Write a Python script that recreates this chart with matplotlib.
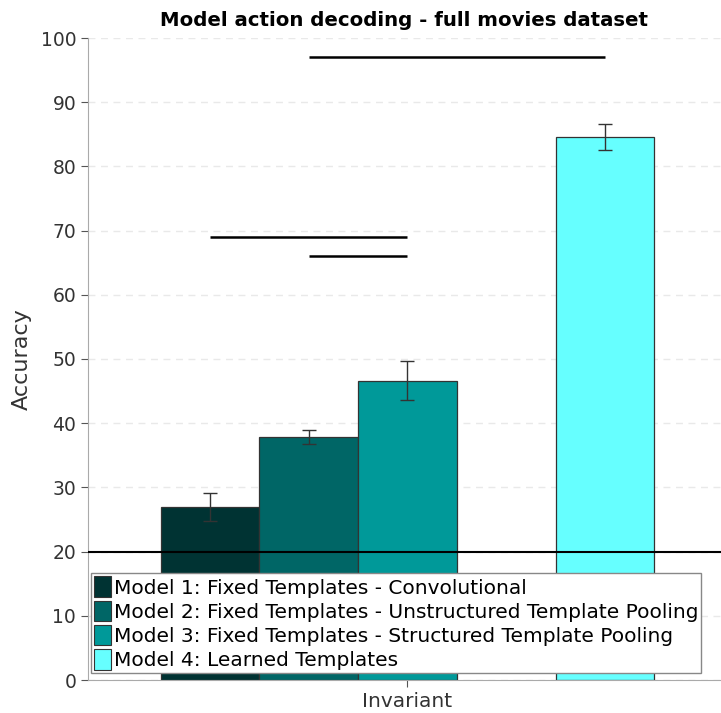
import matplotlib
matplotlib.use("Agg")
import matplotlib.pyplot as plt
from matplotlib.patches import Patch

# Decoding accuracy per model (percent) with standard errors
models = [
    "Model 1: Fixed Templates - Convolutional",
    "Model 2: Fixed Templates - Unstructured Template Pooling",
    "Model 3: Fixed Templates - Structured Template Pooling",
    "Model 4: Learned Templates",
]
accuracy = [26.9, 37.85, 46.6, 84.6]
errors = [2.2, 1.05, 3.05, 2.0]
bar_pos = [1, 2, 3, 5]
colors = ["#003333", "#006666", "#009999", "#66FFFF"]

# Significance brackets: (start bar index, end bar index, height)
sig_pairs = [(0, 2, 69), (1, 2, 66), (1, 3, 97)]
chance_level = 20
group_label = "Invariant"
group_pos = 3

fig = plt.figure(figsize=(7.21, 7.13), dpi=100)
ax = fig.add_axes([88 / 721, 33 / 713, 633 / 721, 642 / 713])

ax.set_axisbelow(True)
ax.yaxis.grid(True, linestyle=(0, (5, 4)), color="#e9e9e9", linewidth=1.0)

ax.bar(bar_pos, accuracy, width=1.0, color=colors, edgecolor="#333333",
       linewidth=0.9, zorder=2)
ax.errorbar(bar_pos, accuracy, yerr=errors, fmt="none", ecolor="#333333",
            elinewidth=1.0, capsize=5, capthick=1.0, zorder=3)

for i, j, h in sig_pairs:
    ax.plot([bar_pos[i], bar_pos[j]], [h, h], color="black", linewidth=1.8,
            solid_capstyle="butt", zorder=4)

ax.axhline(chance_level, color="black", linewidth=1.5, zorder=4)

ax.set_xlim(-0.235, 6.175)
ax.set_ylim(0, 100)
ax.set_yticks(range(0, 101, 10))
ax.set_xticks([group_pos])
ax.set_xticklabels([group_label])

for side in ("top", "right"):
    ax.spines[side].set_visible(False)
ax.spines["left"].set_color("#aaaaaa")
ax.spines["bottom"].set_color("#aaaaaa")
ax.tick_params(axis="both", colors="#555555", labelcolor="#333333",
               labelsize=13.5, length=5, width=0.8)
ax.tick_params(axis="x", labelsize=14.5)

ax.set_ylabel("Accuracy", fontsize=16, color="#333333", labelpad=6)
ax.set_title("Model action decoding - full movies dataset", fontsize=14.2,
             fontweight="bold", pad=9)

handles = [Patch(facecolor=c, edgecolor="#333333", linewidth=0.8) for c in colors]
leg = ax.legend(handles, models, loc="lower left",
                bbox_to_anchor=(3 / 633, 7 / 642), fontsize=14.5,
                frameon=True, fancybox=False, framealpha=1.0,
                edgecolor="#888888", handlelength=0.85, handleheight=1.2,
                handletextpad=0.12, borderpad=0.15, labelspacing=0.15,
                borderaxespad=0)
leg.get_frame().set_linewidth(1.0)
leg.set_zorder(5)

fig.savefig("out.png", dpi=100)
